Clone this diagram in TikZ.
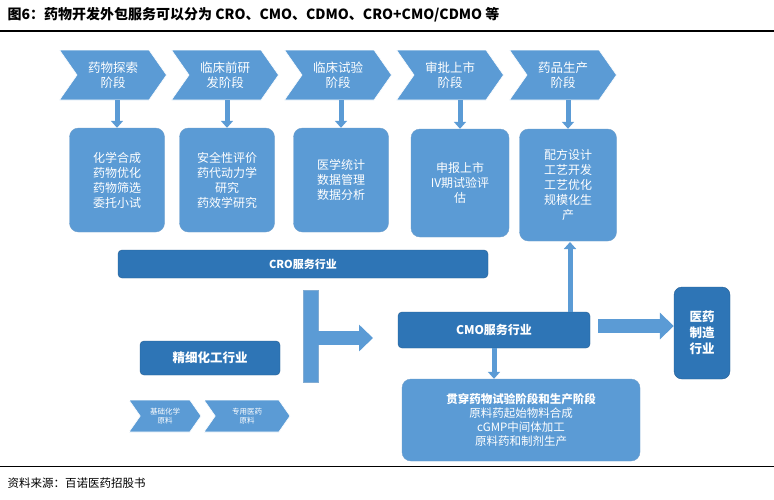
\documentclass[tikz,border=0pt]{standalone}
\usepackage{fontspec}
\setmainfont{Noto Sans CJK SC}
\newfontfamily\cjk{Noto Sans CJK SC}
\usetikzlibrary{shapes.symbols,arrows.meta}
\definecolor{lb}{HTML}{5B9BD5}
\definecolor{db}{HTML}{2E75B6}
\begin{document}
\begin{tikzpicture}[x=1pt,y=-1pt,
 chev/.style={fill=lb,draw=white,line width=0.6pt,signal,signal to=east,signal from=west,signal pointer angle=110,minimum width=#1,text=white,align=center,font=\fontsize{12.5}{15}\selectfont,inner sep=1pt},
 box/.style={fill=lb,draw=db!70,rounded corners=9pt,text=white,align=center,font=\fontsize{12}{15}\selectfont},
 bar/.style={fill=db,draw=db!80!black,rounded corners=4pt,text=white,font=\bfseries\fontsize{11}{13}\selectfont,align=center},
 darr/.style={-{Triangle[length=7pt,width=12pt]},lb,line width=5pt},
 barr/.style={-{Triangle[length=14pt,width=26pt]},lb,line width=14pt}]
\useasboundingbox (0,0) rectangle (774,499);
\fill[white] (0,0) rectangle (774,499);
\node[anchor=west,font=\bfseries\fontsize{14}{16}\selectfont] (title) at (4,15) {图6：药物开发外包服务可以分为 CRO、CMO、CDMO、CRO+CMO/CDMO 等};
\draw[line width=1.2pt] (0,31) -- (774,31);
\draw[line width=0.8pt] (0,466) -- (774,466);
\node[anchor=west,font=\fontsize{11.5}{13}\selectfont] (src) at (4,483) {资料来源：百诺医药招股书};
% chevrons
\node[chev=107pt,minimum height=50pt] (c1) at (113,75) {药物探索\\阶段};
\node[chev=107pt,minimum height=50pt] (c2) at (225,75) {临床前研\\发阶段};
\node[chev=107pt,minimum height=50pt] (c3) at (338,75) {临床试验\\阶段};
\node[chev=107pt,minimum height=50pt] (c4) at (450,75) {审批上市\\阶段};
\node[chev=107pt,minimum height=50pt] (c5) at (563,75) {药品生产\\阶段};
% boxes
\node[box,minimum width=95pt,minimum height=104pt] (b1) at (117,180) {化学合成\\药物优化\\药物筛选\\委托小试};
\node[box,minimum width=95pt,minimum height=104pt] (b2) at (227,180) {安全性评价\\药代动力学\\研究\\药效学研究};
\node[box,minimum width=95pt,minimum height=104pt] (b3) at (341,180) {医学统计\\数据管理\\数据分析};
\node[box,minimum width=98pt,minimum height=108pt] (b4) at (460,183) {申报上市\\IV期试验评\\估};
\node[box,minimum width=97pt,minimum height=112pt] (b5) at (568,185) {配方设计\\工艺开发\\工艺优化\\规模化生\\产};
\foreach \i in {1,...,5}{\draw[darr] (b\i.north |- c\i.south) -- (b\i.north);}
% bars
\node[bar,minimum width=370pt,minimum height=28pt] (cro) at (303,264) {CRO服务行业};
\node[bar,minimum width=192pt,minimum height=36pt,font=\bfseries\fontsize{12}{13}\selectfont] (cmo) at (494,330) {CMO服务行业};
\node[bar,minimum width=140pt,minimum height=34pt,font=\bfseries\fontsize{12.5}{13}\selectfont] (fine) at (210,358) {精细化工行业};
\node[bar,minimum width=56pt,minimum height=92pt,rounded corners=8pt,font=\bfseries\fontsize{12.5}{16}\selectfont] (mfg) at (702,333) {医药\\制造\\行业};
\node[box,fill=lb,minimum width=238pt,minimum height=82pt,font=\fontsize{11.5}{14}\selectfont] (cd) at (521,420) {\textbf{贯穿药物试验阶段和生产阶段}\\原料药起始物料合成\\cGMP中间体加工\\原料药和制剂生产};
% small chevrons
\node[chev=72pt,minimum height=32pt,font=\fontsize{7.5}{9}\selectfont] (s1) at (165,416) {基础化学\\原料};
\node[chev=86pt,minimum height=32pt,font=\fontsize{7.5}{9}\selectfont] (s2) at (247,416) {专用医药\\原料};
% T connector
\fill[lb,draw=db!60] (303,290) rectangle (318,382);
\coordinate (ta1) at (318,338);
\coordinate (ta2) at (373,338);
\draw[barr] (ta1) -- (ta2);
\coordinate (ra1) at (598,326);
\draw[barr] (ra1) -- (mfg.west |- ra1);
\draw[darr] (cmo.south) -- (cmo.south |- cd.north);
\coordinate (up1) at (570,312);
\coordinate (up2) at (570,242);
\draw[darr] (up1) -- (up2);
\end{tikzpicture}
\end{document}
